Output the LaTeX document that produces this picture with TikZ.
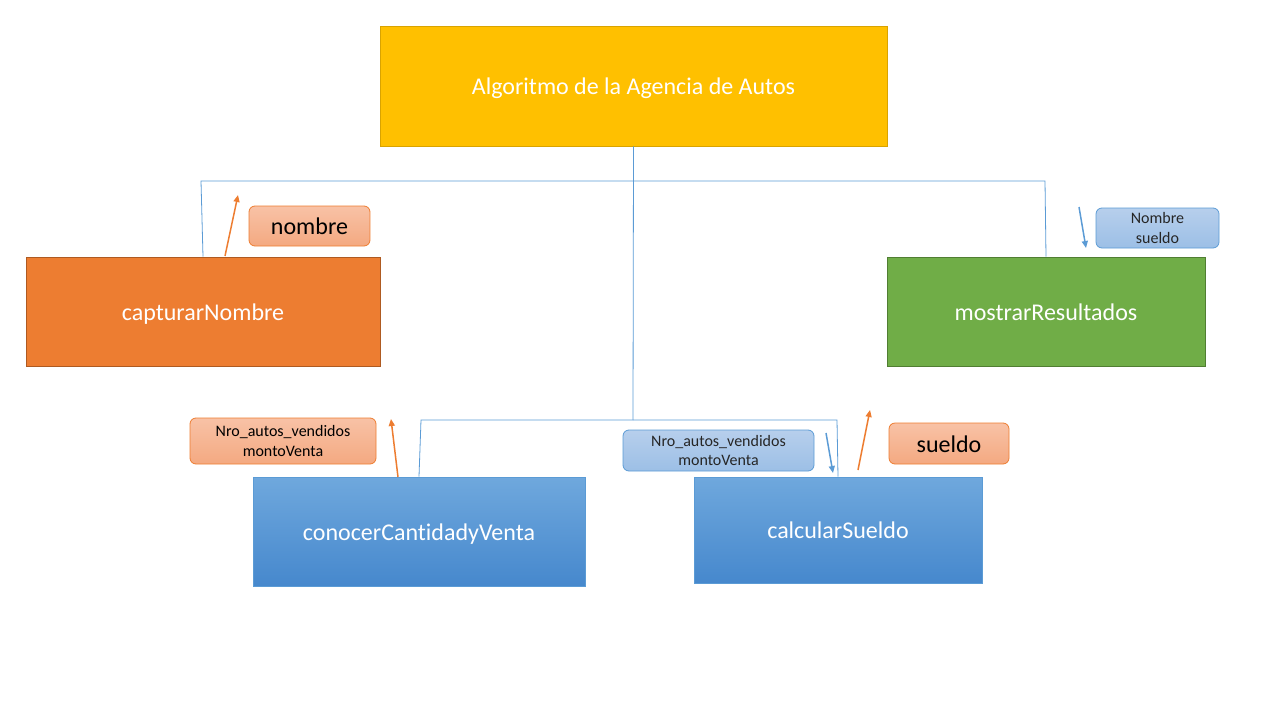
\documentclass[tikz,border=0pt]{standalone}
\usepackage{fontspec}
\setmainfont[Ligatures=NoCommon]{Carlito}
\usetikzlibrary{arrows.meta}
\definecolor{gold}{HTML}{FFC000}
\definecolor{goldline}{HTML}{D9A300}
\definecolor{orng}{HTML}{ED7D31}
\definecolor{orngline}{HTML}{AE5A21}
\definecolor{grn}{HTML}{70AD47}
\definecolor{grnline}{HTML}{507E32}
\definecolor{blu}{HTML}{5B9BD5}
\definecolor{blutop}{HTML}{6FA8DD}
\definecolor{blubot}{HTML}{4688CD}
\definecolor{peachtop}{HTML}{F8C2A6}
\definecolor{peachbot}{HTML}{F4A981}
\definecolor{lbtop}{HTML}{B7CFEC}
\definecolor{lbbot}{HTML}{9CBFE6}
\tikzset{
  box/.style={draw, line width=0.8pt, inner sep=0pt, font=\fontsize{24}{28}\selectfont, text=white, text height=17pt, text depth=0pt},
  orlabel/.style={draw=orng, line width=0.8pt, rounded corners=6pt, top color=peachtop, bottom color=peachbot, inner sep=0pt, align=center, text=black},
  bllabel/.style={draw=blu, line width=0.8pt, rounded corners=6pt, top color=lbtop, bottom color=lbbot, inner sep=0pt, align=center, text=black!85},
  bigtxt/.style={font=\fontsize{24}{28}\selectfont, text height=17pt, text depth=0pt},
  smalltxt/.style={font=\fontsize{16}{19.5}\selectfont},
  conn/.style={draw=blu, line width=0.8pt},
  oarrow/.style={draw=orng, line width=1.5pt, -{Triangle[length=7pt,width=6pt]}},
  barrow/.style={draw=blu, line width=1.5pt, -{Triangle[length=7pt,width=6pt]}},
}
\begin{document}
\begin{tikzpicture}[x=1pt,y=-1pt]
\useasboundingbox (0,0) rectangle (1280,720);
% main boxes
\node[box, draw=goldline, fill=gold, minimum width=507pt, minimum height=120pt] (top) at (633.5,86) {Algoritmo de la Agencia de Autos};
\node[box, draw=orngline, fill=orng, minimum width=354pt, minimum height=109pt] (cap) at (203,311.5) {capturarNombre};
\node[box, draw=grnline, fill=grn, minimum width=318pt, minimum height=109pt] (mos) at (1046,311.5) {mostrarResultados};
\node[box, draw=blu, top color=blutop, bottom color=blubot, minimum width=332pt, minimum height=109pt] (con) at (419,531.5) {conocerCantidadyVenta};
\node[box, draw=blu, top color=blutop, bottom color=blubot, minimum width=288pt, minimum height=106pt] (cal) at (838,530) {calcularSueldo};
% connectors
\coordinate (j1) at (633,181);
\coordinate (j2) at (633,420);
\draw[conn] (top.south) -- (j2);
\draw[conn] (j1) -- (201,181) -- (cap.north);
\draw[conn] (j1) -- (1045,181) -- (mos.north);
\draw[conn] (j2) -- (421,420) -- (con.north);
\draw[conn] (j2) -- (837,420) -- (cal.north);
% labels
\node[orlabel, bigtxt, minimum width=121pt, minimum height=40pt] (lnom) at (309.5,226) {nombre};
\node[bllabel, smalltxt, minimum width=123pt, minimum height=40pt] (lns) at (1157.5,228) {Nombre\\sueldo};
\node[orlabel, smalltxt, minimum width=186pt, minimum height=46pt] (lnro1) at (283,441) {Nro\_autos\_vendidos\\montoVenta};
\node[bllabel, smalltxt, minimum width=191pt, minimum height=41pt] (lnro2) at (718.5,450.5) {Nro\_autos\_vendidos\\montoVenta};
\node[orlabel, bigtxt, minimum width=120pt, minimum height=41pt] (lsue) at (949,443.5) {sueldo};
% arrows
\coordinate (a1s) at (225,256); \coordinate (a1e) at (238,195);
\coordinate (a2s) at (1079,207); \coordinate (a2e) at (1086,248);
\coordinate (a3s) at (398,477); \coordinate (a3e) at (391,419);
\coordinate (a4s) at (826,433); \coordinate (a4e) at (833,473);
\coordinate (a5s) at (858,470); \coordinate (a5e) at (870,410);
\draw[oarrow] (a1s) -- (a1e);
\draw[barrow] (a2s) -- (a2e);
\draw[oarrow] (a3s) -- (a3e);
\draw[barrow] (a4s) -- (a4e);
\draw[oarrow] (a5s) -- (a5e);
\end{tikzpicture}
\end{document}
